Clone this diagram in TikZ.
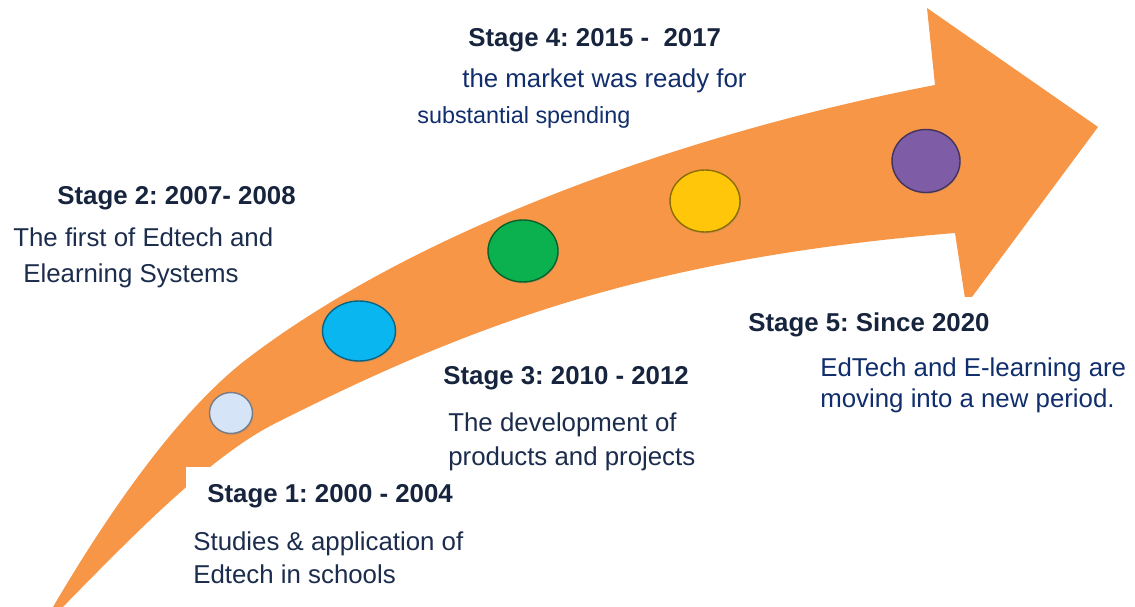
\documentclass[tikz,border=0pt]{standalone}
\usepackage{fontspec}
\setmainfont{Liberation Sans}
\usetikzlibrary{shapes.geometric,shadows}
\definecolor{arroworange}{HTML}{F79646}
\definecolor{titleblue}{HTML}{17243D}
\definecolor{textblue}{HTML}{1B2C4C}
\definecolor{markblue}{HTML}{102E6C}
\definecolor{dotwhite}{HTML}{D6E4F7}
\definecolor{dotcyan}{HTML}{0AB6F0}
\definecolor{dotgreen}{HTML}{0BB04F}
\definecolor{dotyellow}{HTML}{FFC60A}
\definecolor{dotpurple}{HTML}{7E5CA6}
\frenchspacing
\begin{document}
\begin{tikzpicture}[x=0.02cm,y=-0.02cm,
	stage/.style={anchor=base west,inner sep=0pt,text=titleblue,font=\fontsize{14.7}{17}\selectfont\bfseries},
	desc/.style={anchor=base west,inner sep=0pt,text=textblue,font=\fontsize{14.7}{17}\selectfont},
	stagedot/.style={ellipse,draw=#1!55!black,fill=#1,line width=0.8pt,inner sep=0pt,
		drop shadow={opacity=0.3,shadow xshift=0.5pt,shadow yshift=-0.8pt}}]
			\useasboundingbox (0,0) rectangle (1135,607);
			\clip (0,0) rectangle (1135,607);
			% the bent arrow
			\fill[arroworange] (50,612) .. controls (105,518) and (173,418) .. (243,362)
				.. controls (420,225) and (700,130) .. (935,85)
				-- (927,8) -- (1098,127) -- (966,305) -- (955,233)
				.. controls (655,258) and (480,320) .. (280,421)
				.. controls (215,452) and (140,528) .. (58,612) -- cycle;
			% text boxes cut the arrow
			\fill[white] (186,467) rectangle (480,607);
			\fill[white] (742,297) rectangle (1135,607);
			% stages
			\node[stagedot=dotwhite,minimum width=0.86cm,minimum height=0.82cm] (d1) at (231,413) {};
			\node[stagedot=dotcyan,minimum width=1.46cm,minimum height=1.2cm] (d2) at (359,331) {};
			\node[stagedot=dotgreen,minimum width=1.4cm,minimum height=1.24cm] (d3) at (523,251) {};
			\node[stagedot=dotyellow,minimum width=1.4cm,minimum height=1.24cm] (d4) at (705,201) {};
			\node[stagedot=dotpurple,minimum width=1.36cm,minimum height=1.26cm] (d5) at (926,161) {};
			% labels
			\node[stage] (s1) at (207,502) {Stage 1: 2000 - 2004};
			\node[desc] (s1a) at (193,550) {Studies \& application of};
			\node[desc] (s1b) at (193,583) {Edtech in schools};
			\node[stage] (s2) at (57,205) {Stage 2: 2007- 2008};
			\node[desc] (s2a) at (13,247) {The first of Edtech and};
			\node[desc] (s2b) at (23,283) {Elearning Systems};
			\node[stage] (s3) at (443,385) {Stage 3: 2010 - 2012};
			\node[desc] (s3a) at (448,432) {The development of};
			\node[desc] (s3b) at (448,465) {products and projects};
			\node[stage] (s4) at (468,47) {Stage 4: 2015 - \ 2017};
			\node[desc,text=markblue] (s4a) at (462,88) {the market was ready for};
			\node[desc,text=markblue,font=\fontsize{13.3}{16}\selectfont] (s4b) at (417,124) {substantial spending};
			\node[stage] (s5) at (748,332) {Stage 5: Since 2020};
			\node[desc,text=markblue] (s5a) at (820,377) {EdTech and E-learning are};
			\node[desc,text=markblue] (s5b) at (820,408) {moving into a new period.};
		\end{tikzpicture}
\end{document}
